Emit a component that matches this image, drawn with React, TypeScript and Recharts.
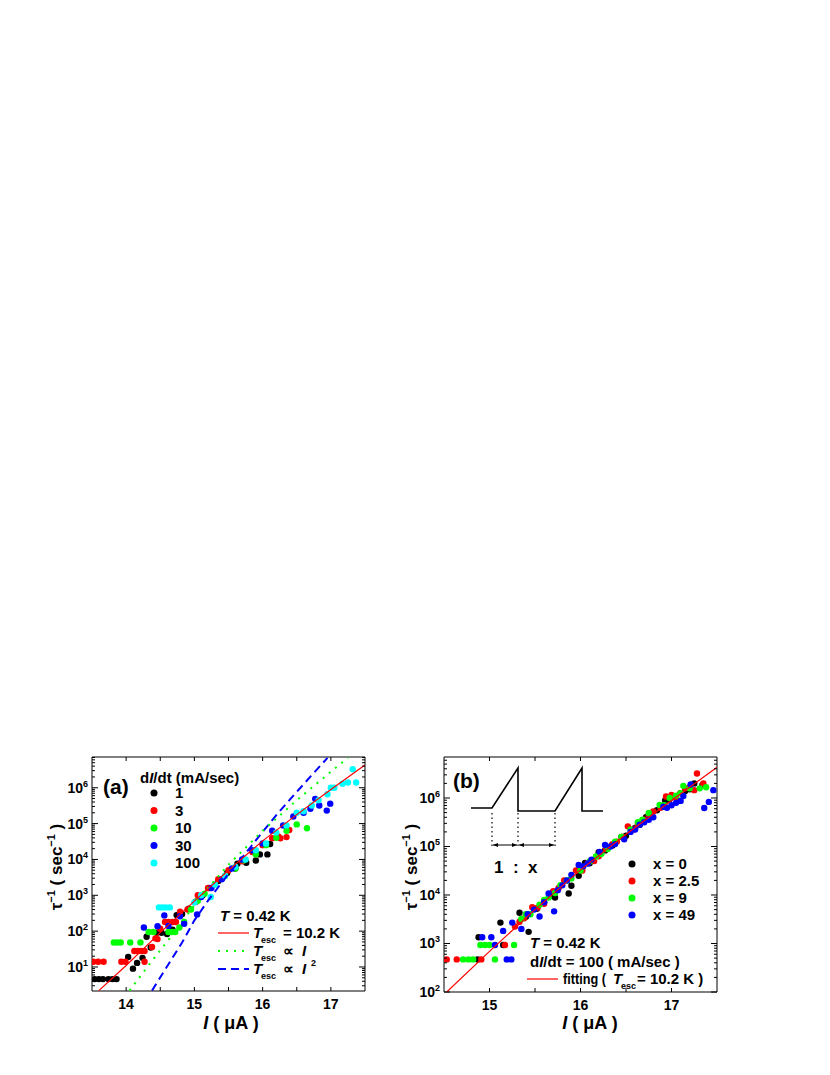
import React from 'react'
import { ScatterChart, Scatter, XAxis, YAxis } from 'recharts'

const FONT = '"Liberation Sans", Arial, Helvetica, sans-serif'

// ---- panel (a): escape rate vs bias current, one series per sweep rate dI/dt (mA/sec)
const sweepLabels = ['1', '3', '10', '30', '100']
const sweepColors = ['#000000', '#ff0000', '#00ff00', '#0000ff', '#00ffff']

const sweep1 = [
  [13.54, 4.6], [13.6, 4.6], [13.66, 4.6], [13.74, 4.6], [13.8, 4.6], [13.86, 4.6],
  [14.03, 19], [14.1, 9], [14.16, 13], [14.24, 18], [14.3, 70], [14.36, 35], [14.45, 90],
  [14.52, 90], [14.6, 83], [14.68, 110], [14.74, 280], [14.82, 300], [14.92, 420],
  [15.02, 660], [15.12, 1000], [15.22, 1600], [15.35, 2500], [15.48, 4200], [15.6, 5600],
  [15.63, 7600], [15.76, 8100], [15.9, 9300], [15.96, 13800], [16.07, 13800], [16.11, 27000],
]
const sweep3 = [
  [13.52, 14], [13.59, 14], [13.67, 14], [13.93, 14], [13.99, 14], [14.27, 14],
  [14.12, 28], [14.17, 28], [14.22, 28], [14.27, 28], [14.38, 36], [14.43, 63], [14.46, 60],
  [14.5, 117], [14.57, 180], [14.62, 180], [14.68, 180], [14.73, 180], [14.79, 350],
  [14.9, 400], [15.05, 1000], [15.2, 1600], [15.35, 2800], [15.5, 5000], [15.7, 8900],
  [15.85, 16000], [16.0, 25000], [16.14, 39000], [16.23, 44000], [16.26, 39000],
  [16.35, 42000], [16.39, 66000],
]
const sweep10 = [
  [13.82, 48], [13.87, 48], [13.92, 48], [14.06, 48], [14.21, 48],
  [14.33, 95], [14.4, 95], [14.62, 95], [14.67, 95], [14.72, 95], [14.78, 126], [14.85, 180],
  [14.95, 400], [15.05, 700], [15.15, 1100], [15.3, 2000], [15.45, 3500], [15.6, 5600],
  [15.72, 9500], [15.9, 14000], [16.05, 25000], [16.2, 40000], [16.35, 63000],
  [16.5, 95000], [16.65, 74000],
]
const sweep30 = [
  [14.26, 126], [14.46, 138], [14.56, 275], [14.62, 140], [14.79, 260], [14.85, 160],
  [15.04, 290], [15.1, 900], [15.25, 1600], [15.4, 2800], [15.55, 5600], [15.7, 10000],
  [15.85, 18000], [16.0, 28000], [16.14, 63000], [16.3, 89000], [16.45, 158000],
  [16.6, 200000], [16.7, 260000], [16.77, 490000], [16.83, 320000], [16.94, 230000],
  [16.99, 360000],
]
const sweep100 = [
  [14.48, 460], [14.53, 460], [14.58, 460], [14.64, 460], [15.0, 630], [15.1, 1000],
  [15.24, 900], [15.3, 2000], [15.45, 3500], [15.6, 6300], [15.75, 10000], [15.9, 18000],
  [16.05, 28000], [16.2, 56000], [16.35, 89000], [16.5, 200000], [16.6, 220000],
  [16.72, 320000], [16.82, 450000], [16.95, 660000], [17.0, 1000000], [17.05, 1000000],
  [17.17, 1300000], [17.25, 1400000], [17.32, 3300000], [17.37, 1400000],
]

// model curves
const fitEsc = [
  [13.6, 2.2], [14.0, 11], [14.5, 91], [15.0, 690], [15.5, 5000], [16.0, 33000],
  [16.5, 178000], [17.0, 890000], [17.5, 4300000],
]
const linearEsc = [
  [14.05, 2.2], [14.35, 12.6], [14.7, 89], [15.0, 525], [15.2, 1600], [15.5, 7100],
  [16.0, 63000], [16.5, 447000], [17.0, 2800000], [17.25, 6800000],
]
const squareEsc = [
  [14.38, 2.2], [14.62, 12], [14.82, 48], [15.0, 200], [15.2, 710], [15.48, 3550],
  [15.72, 12600], [15.97, 50000], [16.22, 190000], [16.46, 630000], [16.71, 2140000],
  [16.95, 6800000],
]

// ---- panel (b): dI/dt = 100 mA/sec, duty ratio 1 : x
const dutyLabels = ['x = 0', 'x = 2.5', 'x = 9', 'x = 49']
const dutyColors = ['#000000', '#ff0000', '#00ff00', '#0000ff']

const duty0 = [
  [14.87, 470], [14.88, 1350], [15.15, 930], [15.12, 2700], [15.33, 4300], [15.43, 1740],
  [15.4, 3550], [15.52, 5200], [15.6, 7100], [15.66, 9500], [15.72, 8900], [15.87, 10700],
  [15.9, 15500], [15.98, 25000], [16.05, 46000], [16.1, 45000], [16.2, 76000], [16.27, 83000],
  [16.35, 105000], [16.45, 158000], [16.5, 166000], [16.6, 240000], [16.65, 282000],
  [16.72, 400000], [16.78, 417000], [16.84, 560000], [16.93, 890000], [16.98, 955000],
  [17.05, 1050000], [17.1, 1260000], [17.15, 1400000], [17.2, 1510000], [17.25, 2000000],
  [17.34, 1860000],
]
const duty25 = [
  [14.53, 470], [14.64, 470], [14.91, 470], [15.17, 930], [15.28, 2240], [15.33, 2800],
  [15.38, 3300], [15.47, 5600], [15.53, 5500], [15.6, 6600], [15.7, 12000], [15.76, 14000],
  [15.82, 20000], [15.95, 32000], [16.02, 32000], [16.08, 46000], [16.15, 50000],
  [16.2, 63000], [16.28, 89000], [16.35, 112000], [16.4, 126000], [16.46, 158000],
  [16.52, 260000], [16.58, 224000], [16.63, 280000], [16.7, 355000], [16.75, 447000],
  [16.8, 525000], [16.88, 630000], [16.94, 1070000], [17.0, 1150000], [17.05, 1000000],
  [17.1, 1260000], [17.15, 1580000], [17.2, 1660000], [17.25, 1450000], [17.28, 3200000],
  [17.35, 2000000],
]
const duty9 = [
  [14.71, 470], [14.77, 470], [14.82, 470], [15.06, 470], [14.9, 930], [14.95, 930],
  [15.0, 930], [15.27, 930], [15.35, 3200], [15.4, 4000], [15.45, 4000], [15.55, 6300],
  [15.6, 7900], [15.65, 8900], [15.72, 11000], [15.78, 16000], [15.85, 20000], [15.9, 22000],
  [16.0, 32000], [16.1, 49000], [16.17, 62000], [16.23, 71000], [16.3, 89000],
  [16.38, 126000], [16.45, 158000], [16.55, 224000], [16.63, 316000], [16.68, 355000],
  [16.75, 490000], [16.87, 720000], [16.92, 710000], [16.98, 1000000], [17.05, 1120000],
  [17.1, 1260000], [17.13, 1780000], [17.2, 1580000], [17.31, 1580000], [17.38, 1660000],
]
const duty49 = [
  [15.19, 470], [15.24, 470], [15.06, 930], [14.92, 1350], [15.02, 1350], [15.15, 1820],
  [15.25, 2700], [15.35, 2000], [15.42, 4000], [15.49, 5000], [15.55, 3600], [15.6, 7100],
  [15.65, 10700], [15.71, 4600], [15.75, 12600], [15.8, 15800], [15.85, 20000],
  [15.9, 26000], [15.98, 41700], [16.03, 39000], [16.08, 44700], [16.12, 53700],
  [16.21, 77600], [16.27, 107000], [16.33, 100000], [16.38, 112000], [16.48, 141000],
  [16.55, 200000], [16.6, 224000], [16.65, 282000], [16.7, 316000], [16.75, 355000],
  [16.8, 400000], [16.91, 660000], [16.95, 631000], [17.0, 710000], [17.05, 794000],
  [17.1, 870000], [17.13, 1100000], [17.21, 1900000], [17.36, 620000], [17.41, 830000],
  [17.46, 1450000],
]
const fitEscB = [
  [14.53, 100], [15.0, 690], [15.5, 5000], [16.0, 33000], [16.5, 178000], [17.0, 890000],
  [17.5, 4300000],
]

// axes
const xTicksA = [14, 14.5, 15, 15.5, 16, 16.5, 17]
const xTicksB = [15, 15.5, 16, 16.5, 17]
const yDomainA = [2.14, 7.2e6]
const yDomainB = [100, 7e6]

const logTicks = (lo: number, hi: number) => {
  const out: number[] = []
  for (let e = Math.floor(Math.log10(lo)); e <= Math.ceil(Math.log10(hi)); e++)
    for (let m = 1; m < 10; m++) {
      const t = m * 10 ** e
      if (t >= lo && t < hi * 0.99) out.push(t)
    }
  return out
}
const yTicksA = logTicks(yDomainA[0], yDomainA[1])
const yTicksB = logTicks(yDomainB[0] * 0.999, yDomainB[1])

const pts = (rows: number[][]) => rows.map(([I, v]) => ({ I, v }))
const isDecade = (v: number) => Math.abs(Math.log10(v) - Math.round(Math.log10(v))) < 1e-6

type TickProps = { x?: number; y?: number; payload?: { value: number } }

function BottomTick({ x = 0, y = 0, payload }: TickProps) {
  const v = payload?.value ?? 0
  const major = Number.isInteger(v)
  return (
    <g>
      <line x1={x} y1={y} x2={x} y2={y - 4} stroke="#000" />
      {major && (
        <text x={x} y={y + 18} textAnchor="middle" fontSize={14} fontWeight="bold" fontFamily={FONT}>
          {v}
        </text>
      )}
    </g>
  )
}

function TopTick({ x = 0, y = 0 }: TickProps) {
  return <line x1={x} y1={y} x2={x} y2={y + 4} stroke="#000" />
}

function LeftTick({ x = 0, y = 0, payload }: TickProps) {
  const v = payload?.value ?? 1
  const major = isDecade(v)
  return (
    <g>
      <line x1={x} y1={y} x2={x + (major ? 6 : 3)} y2={y} stroke="#000" />
      {major && (
        <text x={x - 4} y={y + 5} textAnchor="end" fontSize={14} fontWeight="bold" fontFamily={FONT}>
          10<tspan dy={-6} fontSize={9}>{Math.round(Math.log10(v))}</tspan>
        </text>
      )}
    </g>
  )
}

function RightTick({ x = 0, y = 0, payload }: TickProps) {
  const major = isDecade(payload?.value ?? 1)
  return <line x1={x} y1={y} x2={x - (major ? 6 : 3)} y2={y} stroke="#000" />
}

const dot = (color: string) => (p: any) => <circle cx={p.cx} cy={p.cy} r={3.2} fill={color} />
const noDot = () => <g />

function Frame({ xDomain, xTicks, yDomain, yTicks, yWidth, xHeight }: any) {
  return [
    <XAxis key="xb" xAxisId="b" type="number" dataKey="I" domain={xDomain} allowDataOverflow
      ticks={xTicks} interval={0} tickSize={0} tickMargin={0} height={xHeight}
      tick={<BottomTick />} tickLine={false} axisLine={{ stroke: '#000' }} />,
    <XAxis key="xt" xAxisId="t" orientation="top" type="number" dataKey="I" domain={xDomain}
      allowDataOverflow ticks={xTicks} interval={0} tickSize={0} tickMargin={0} height={1}
      tick={<TopTick />} tickLine={false} axisLine={{ stroke: '#000' }} />,
    <YAxis key="yl" yAxisId="l" type="number" dataKey="v" scale="log" domain={yDomain}
      allowDataOverflow ticks={yTicks} interval={0} tickSize={0} tickMargin={0} width={yWidth}
      tick={<LeftTick />} tickLine={false} axisLine={{ stroke: '#000' }} />,
    <YAxis key="yr" yAxisId="r" orientation="right" type="number" dataKey="v" scale="log"
      domain={yDomain} allowDataOverflow ticks={yTicks} interval={0} tickSize={0} tickMargin={0}
      width={1} tick={<RightTick />} tickLine={false} axisLine={{ stroke: '#000' }} />,
  ]
}

const txt = { fontFamily: FONT, fontWeight: 'bold' as const, fontSize: 15 }

function TEsc({ x, y }: { x: number; y: number }) {
  return (
    <>
      <text x={x} y={y} {...txt} fontStyle="italic">T</text>
      <text x={x + 8} y={y + 5} {...txt} fontSize={9}>esc</text>
    </>
  )
}

function YTitle({ x, y }: { x: number; y: number }) {
  return (
    <text x={x} y={y} transform={`rotate(-90 ${x} ${y})`} textAnchor="middle" {...txt} fontSize={17}>
      τ<tspan dy={-7} fontSize={11}>−1</tspan>
      <tspan dy={7}> ( sec</tspan>
      <tspan dy={-7} fontSize={11}>−1</tspan>
      <tspan dy={7}> )</tspan>
    </text>
  )
}

export default function App() {
  const seriesA = [sweep1, sweep3, sweep10, sweep30, sweep100]
  const seriesB = [duty0, duty25, duty9, duty49]
  return (
    <div style={{ position: 'absolute', left: 0, top: 0, width: 830, height: 1075, background: '#fff' }}>
      <div style={{ position: 'absolute', left: 0, top: 700 }}>
        <ScatterChart width={400} height={340} margin={{ top: 56, right: 34, bottom: 0, left: 0 }}>
          {Frame({ xDomain: [13.5, 17.5], xTicks: xTicksA, yDomain: yDomainA, yTicks: yTicksA, yWidth: 92, xHeight: 49 })}
          <Scatter xAxisId="t" yAxisId="r" data={pts(fitEsc)} shape={noDot} isAnimationActive={false} />
          {seriesA.map((s, i) => (
            <Scatter key={sweepLabels[i]} xAxisId="b" yAxisId="l" data={pts(s)} fill={sweepColors[i]}
              shape={dot(sweepColors[i])} isAnimationActive={false} />
          ))}
          <Scatter xAxisId="b" yAxisId="l" data={pts(squareEsc)} fill="#0000ff" shape={noDot} lineType="joint"
            line={{ stroke: '#0000ff', strokeWidth: 2, strokeDasharray: '8 5' }} isAnimationActive={false} />
          <Scatter xAxisId="b" yAxisId="l" data={pts(linearEsc)} fill="#00ff00" shape={noDot} lineType="joint"
            line={{ stroke: '#00ff00', strokeWidth: 2, strokeDasharray: '2 6' }} isAnimationActive={false} />
          <Scatter xAxisId="b" yAxisId="l" data={pts(fitEsc)} fill="#ff0000" shape={noDot} lineType="joint"
            line={{ stroke: '#ff0000', strokeWidth: 1.2 }} isAnimationActive={false} />
        </ScatterChart>
      </div>

      <div style={{ position: 'absolute', left: 400, top: 700 }}>
        <ScatterChart width={360} height={340} margin={{ top: 56, right: 42, bottom: 0, left: 0 }}>
          {Frame({ xDomain: [14.5, 17.5], xTicks: xTicksB, yDomain: yDomainB, yTicks: yTicksB, yWidth: 44, xHeight: 48 })}
          <Scatter xAxisId="t" yAxisId="r" data={pts(fitEscB)} shape={noDot} isAnimationActive={false} />
          {seriesB.map((s, i) => (
            <Scatter key={dutyLabels[i]} xAxisId="b" yAxisId="l" data={pts(s)} fill={dutyColors[i]}
              shape={dot(dutyColors[i])} isAnimationActive={false} />
          ))}
          <Scatter xAxisId="b" yAxisId="l" data={pts(fitEscB)} fill="#ff0000" shape={noDot} lineType="joint"
            line={{ stroke: '#ff0000', strokeWidth: 1.2 }} isAnimationActive={false} />
        </ScatterChart>
      </div>

      <svg width={830} height={1075} style={{ position: 'absolute', left: 0, top: 0, pointerEvents: 'none' }}>
        {/* panel (a) annotations */}
        <text x={103} y={794} {...txt} fontSize={21}>(a)</text>
        <text x={140} y={783} {...txt}>
          d<tspan fontStyle="italic">I</tspan>/dt (mA/sec)
        </text>
        {sweepLabels.map((l, i) => (
          <g key={l}>
            <circle cx={154} cy={793 + i * 17.5} r={3.5} fill={sweepColors[i]} />
            <text x={175} y={798 + i * 17.5} {...txt}>{l}</text>
          </g>
        ))}
        <text x={220} y={921} {...txt}>
          <tspan fontStyle="italic">T</tspan> = 0.42 K
        </text>
        <line x1={218} y1={933} x2={249} y2={933} stroke="#ff0000" strokeWidth={1.2} />
        <line x1={218} y1={951} x2={249} y2={951} stroke="#00ff00" strokeWidth={2} strokeDasharray="2 6" />
        <line x1={218} y1={969} x2={249} y2={969} stroke="#0000ff" strokeWidth={2} strokeDasharray="8 5" />
        <TEsc x={253} y={938} />
        <text x={283} y={938} {...txt}>= 10.2 K</text>
        <TEsc x={253} y={956} />
        <text x={283} y={956} {...txt}>∝</text>
        <text x={302} y={956} {...txt} fontStyle="italic">I</text>
        <TEsc x={253} y={974} />
        <text x={283} y={974} {...txt}>∝</text>
        <text x={302} y={974} {...txt} fontStyle="italic">I</text>
        <text x={311} y={966} {...txt} fontSize={9}>2</text>
        <text x={231} y={1029} textAnchor="middle" {...txt} fontSize={18}>
          <tspan fontStyle="italic">I</tspan> ( μA )
        </text>
        <YTitle x={62} y={867} />

        {/* panel (b) annotations */}
        <text x={453} y={788} {...txt} fontSize={21}>(b)</text>
        <polyline points="471,808 492,808 518,768 518,811 555,811 582,768 582,811 603,811"
          fill="none" stroke="#000" strokeWidth={1.6} />
        {[492, 518, 555].map((x) => (
          <line key={x} x1={x} y1={813} x2={x} y2={846} stroke="#000" strokeWidth={1.2} strokeDasharray="1.5 3" />
        ))}
        <line x1={493} y1={845} x2={517} y2={845} stroke="#000" strokeWidth={1} />
        <line x1={519} y1={845} x2={554} y2={845} stroke="#000" strokeWidth={1} />
        <path d="M493,845 l5,-2 v4 z M517,845 l-5,-2 v4 z M519,845 l5,-2 v4 z M554,845 l-5,-2 v4 z" fill="#000" />
        <text x={494} y={873} {...txt} fontSize={17}>1</text>
        <text x={513} y={873} {...txt} fontSize={17}>:</text>
        <text x={528} y={873} {...txt} fontSize={17}>x</text>
        {dutyLabels.map((l, i) => (
          <g key={l}>
            <circle cx={632} cy={864 + i * 17} r={3.5} fill={dutyColors[i]} />
            <text x={653} y={869 + i * 17} {...txt}>{l}</text>
          </g>
        ))}
        <text x={530} y={948} {...txt}>
          <tspan fontStyle="italic">T</tspan> = 0.42 K
        </text>
        <text x={530} y={967} {...txt}>
          d<tspan fontStyle="italic">I</tspan>/dt = 100 ( mA/sec )
        </text>
        <line x1={527} y1={979} x2={558} y2={979} stroke="#ff0000" strokeWidth={1.2} />
        <text x={563} y={984} {...txt} textLength={43} lengthAdjust="spacingAndGlyphs">fitting (</text>
        <TEsc x={613} y={984} />
        <text x={637} y={984} {...txt}>= 10.2 K )</text>
        <text x={590} y={1029} textAnchor="middle" {...txt} fontSize={18}>
          <tspan fontStyle="italic">I</tspan> ( μA )
        </text>
        <YTitle x={417} y={867} />
      </svg>
    </div>
  )
}
